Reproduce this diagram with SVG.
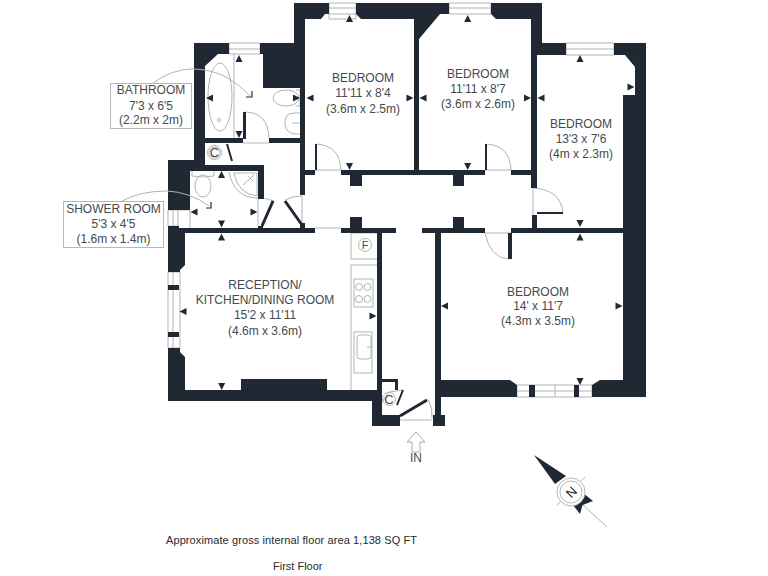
<svg xmlns="http://www.w3.org/2000/svg" width="768" height="576" viewBox="0 0 768 576">
<style>
.w{fill:#1f2833}
.l{fill:none;stroke:#b0b4b5;stroke-width:1}
.b{fill:none;stroke:#1f2833;stroke-width:3}
.t{font-family:"Liberation Sans",Arial,sans-serif;font-size:12px;fill:#454a4e;text-anchor:middle}
.f{font-family:"Liberation Sans",Arial,sans-serif;font-size:11px;fill:#2a2a2a}
</style>
<defs>
<path id="u" class="w" d="M0 -3.5L3.5 3.5L-3.5 3.5Z"/>
</defs>
<rect width="768" height="576" fill="#fff"/>
<g id="fixtures">
<path class="l" d="M329 3H356V19H329ZM329 8H356M329 14H356"/>
<path class="l" d="M449 3H491V14H449ZM449 8H491"/>
<path class="l" d="M566 43H614V55H566ZM566 49H614"/>
<path class="l" d="M229 43H260V54H229ZM229 49H260"/>
<path class="l" d="M168 210H178V226H168ZM173 210V226M178 210H190V228M178 226V228"/>
<path class="l" d="M168 272H180V348H168ZM173 272V348"/>
<path class="l" d="M517 385H592V397H517ZM517 391H592M555 385V397"/>
<path class="l" d="M234 54V138"/>
<ellipse class="l" cx="220" cy="97" rx="12" ry="34"/>
<circle class="l" cx="219" cy="120" r="1.5"/>
<ellipse class="l" cx="286" cy="98" rx="13" ry="8"/>
<path class="l" d="M296 90H300V106H296"/>
<path class="l" d="M300 113H295Q284 113 285 124Q286 134 296 134H300M292 123H300"/>
<ellipse class="l" cx="203" cy="186" rx="8" ry="11"/>
<path class="l" d="M192 171V176Q203 178 214 176V171"/>
<path class="l" d="M234 173H257V196Q238 194 234 173Z"/>
<path class="l" d="M229 172Q234 198 258 198"/>
<path class="l" d="M243 185L254 175M248 176L253 181"/>
<path class="l" d="M258 199V226M258 198Q267 198 274 201M285 200Q292 196 302 196V225"/>
<path class="l" d="M243 143H269M315 170H341M485 170H511M485 233H511M315 228H341"/>
<path class="l" d="M246 112Q268 113 269 138"/>
<path class="l" d="M317 144Q340 146 341 170"/>
<path class="l" d="M487 144Q510 146 511 170"/>
<path class="l" d="M485 233Q490 258 509 259"/>
<path class="l" d="M533 188V215M534 188Q561 190 563 213"/>
<path class="l" d="M351 233H377M351 233V259H377"/>
<circle class="l" cx="365" cy="245" r="6.5"/>
<path class="l" d="M351 265H377M351 265V390"/>
<rect class="l" x="354" y="279" width="19" height="28"/>
<circle class="l" cx="359" cy="287" r="3.5"/><circle class="l" cx="367.500" cy="287" r="3.5"/>
<circle class="l" cx="359" cy="299" r="3.5"/><circle class="l" cx="367.500" cy="299" r="3.5"/>
<rect class="l" x="354" y="332" width="18" height="41"/>
<rect class="l" x="357" y="335" width="14" height="24" rx="3"/>
<path class="l" d="M367 347H372"/>
<circle class="l" cx="214.500" cy="152.500" r="7"/>
<circle class="l" cx="214.500" cy="152.500" r="5.500"/>
<circle class="l" cx="389" cy="399" r="6.500"/>
<path class="l" d="M400 420H432M428 399Q433 408 432 418M382 402L389 392L403 390"/>
</g>
<g id="walls">
<path class="w" d="M294 3H329V14H325L321 19H305V43H294Z"/>
<path class="w" d="M356 3H449V14H440L419 39H414V19H361L356 14Z"/>
<path class="w" d="M414 19H419V170H414Z"/>
<path class="w" d="M491 3H542V43H537V19H496L491 14Z"/>
<path class="w" d="M294 3H305V88H263V54H260V43H294Z"/>
<rect class="w" x="300" y="88" width="5" height="107"/>
<path class="w" d="M194 43H229V54H218L205 66V160H194Z"/>
<path class="w" d="M168 160H205V165H264V199H258V171H190V210H168Z"/>
<rect class="w" x="205" y="138" width="38" height="5"/>
<rect class="w" x="269" y="138" width="31" height="5"/>
<rect class="w" x="243" y="112" width="3" height="27"/>
<path class="w" d="M168 226H179V228H315V233H185V265L180 270V272H168Z"/>
<path class="w" d="M168 348H180V352L185 357V390H241V379H327V390H372V401H168Z"/>
<rect class="w" x="372" y="390" width="10" height="36"/>
<rect class="w" x="372" y="415" width="28" height="11"/>
<rect class="w" x="377" y="233" width="5" height="157"/>
<path class="w" d="M382 379H398V390H395V382H382Z"/>
<rect class="w" x="341" y="228" width="55" height="5"/>
<rect class="w" x="422" y="228" width="63" height="5"/>
<rect class="w" x="511" y="228" width="112" height="5"/>
<rect class="w" x="532" y="215" width="5" height="13"/>
<rect class="w" x="531" y="19" width="6" height="169"/>
<rect class="w" x="304" y="170" width="11" height="5"/>
<rect class="w" x="341" y="170" width="59" height="5"/>
<rect class="w" x="400" y="170" width="85" height="5"/>
<rect class="w" x="511" y="170" width="20" height="5"/>
<rect class="w" x="350" y="175" width="12" height="11"/>
<rect class="w" x="350" y="217" width="12" height="11"/>
<rect class="w" x="453" y="175" width="11" height="11"/>
<rect class="w" x="453" y="217" width="11" height="11"/>
<rect class="w" x="315" y="144" width="2" height="26"/>
<rect class="w" x="485" y="144" width="2" height="26"/>
<rect class="w" x="508" y="233" width="4" height="26"/>
<rect class="w" x="537" y="212" width="26" height="2"/>
<rect class="w" x="537" y="43" width="29" height="12"/>
<path class="w" d="M614 43H646V397H592V385L600 380H623V95H635V67L625 55H614Z"/>
<rect class="w" x="435" y="233" width="6" height="182"/>
<path class="w" d="M435 380H510L517 385V397H435Z"/>
<rect class="w" x="433" y="415" width="12" height="11"/>
<rect class="w" x="529" y="385" width="6" height="12"/>
<rect class="w" x="574" y="385" width="5" height="12"/>
<rect class="w" x="168" y="285" width="11" height="5"/>
<rect class="w" x="168" y="332" width="11" height="5"/>
<rect class="w" x="258" y="226" width="5" height="2"/>
<rect class="w" x="300" y="223" width="5" height="5"/>
<path class="b" d="M262 226L273 201M285 201L302 225M400 416L427 400"/>
<path class="b" style="stroke-width:2" d="M227 144L232 161M403 390L397 405"/>
</g>
<g id="markers">
<use href="#u" x="349.500" y="18.500"/>
<use href="#u" x="467.700" y="18.500"/>
<use href="#u" x="580" y="58.500"/>
<use href="#u" x="239" y="58.500"/>
<use href="#u" x="221.500" y="174.500"/>
<use href="#u" x="221.500" y="237"/>
<use href="#u" x="580" y="237"/>
<use href="#u" transform="translate(239 134.500) rotate(180)"/>
<use href="#u" transform="translate(349.500 166.500) rotate(180)"/>
<use href="#u" transform="translate(467.700 166.500) rotate(180)"/>
<use href="#u" transform="translate(221.500 224) rotate(180)"/>
<use href="#u" transform="translate(580 223.500) rotate(180)"/>
<use href="#u" transform="translate(221.700 386.500) rotate(180)"/>
<use href="#u" transform="translate(580 381.500) rotate(180)"/>
<use href="#u" transform="translate(209.500 98) rotate(-90)"/>
<use href="#u" transform="translate(310 98) rotate(-90)"/>
<use href="#u" transform="translate(423 98) rotate(-90)"/>
<use href="#u" transform="translate(541 98) rotate(-90)"/>
<use href="#u" transform="translate(194 212) rotate(-90)"/>
<use href="#u" transform="translate(183 311.500) rotate(-90)"/>
<use href="#u" transform="translate(444.500 306) rotate(-90)"/>
<use href="#u" transform="translate(296.500 98) rotate(90)"/>
<use href="#u" transform="translate(410 98) rotate(90)"/>
<use href="#u" transform="translate(527.500 98) rotate(90)"/>
<use href="#u" transform="translate(631 87) rotate(90)"/>
<use href="#u" transform="translate(254 212) rotate(90)"/>
<use href="#u" transform="translate(373 316) rotate(90)"/>
<use href="#u" transform="translate(619 306) rotate(90)"/>
</g>
<g id="leaders">
<path class="l" d="M153 83Q172 69 193 69M193 69Q225 69 250 96"/>
<path class="l" d="M122 201Q140 191 167 191M167 191Q190 192 209 206"/>
<path d="M246 97H252V91M206 208H211V202" fill="none" stroke="#1f2833" stroke-width="1.200"/>
</g>
<g id="label-bathroom">
<rect x="110.500" y="83.500" width="81" height="45" fill="#fff" stroke="#b5b8b9"/>
<text class="t" x="151" y="94">BATHROOM</text>
<text class="t" x="151" y="110">7'3 x 6'5</text>
<text class="t" x="151" y="124">(2.2m x 2m)</text>
</g>
<g id="label-shower">
<rect x="63.500" y="201.500" width="100" height="46" fill="#fff" stroke="#b5b8b9"/>
<text class="t" x="113.500" y="213">SHOWER ROOM</text>
<text class="t" x="113.500" y="228">5'3 x 4'5</text>
<text class="t" x="113.500" y="243">(1.6m x 1.4m)</text>
</g>
<g id="label-bedroom-1">
<text class="t" x="363" y="82">BEDROOM</text>
<text class="t" x="363" y="97">11'11 x 8'4</text>
<text class="t" x="363" y="113">(3.6m x 2.5m)</text>
</g>
<g id="label-bedroom-2">
<text class="t" x="478" y="78">BEDROOM</text>
<text class="t" x="478" y="93">11'11 x 8'7</text>
<text class="t" x="478" y="108">(3.6m x 2.6m)</text>
</g>
<g id="label-bedroom-3">
<text class="t" x="581" y="128">BEDROOM</text>
<text class="t" x="581" y="143">13'3 x 7'6</text>
<text class="t" x="581" y="158">(4m x 2.3m)</text>
</g>
<g id="label-bedroom-4">
<text class="t" x="538" y="296">BEDROOM</text>
<text class="t" x="538" y="310">14' x 11'7</text>
<text class="t" x="538" y="325">(4.3m x 3.5m)</text>
</g>
<g id="label-reception">
<text class="t" x="265" y="289">RECEPTION/</text>
<text class="t" x="265" y="304">KITCHEN/DINING ROOM</text>
<text class="t" x="265" y="319">15'2 x 11'11</text>
<text class="t" x="265" y="335">(4.6m x 3.6m)</text>
</g>
<g id="symbols">
<text class="t" x="214.500" y="157" style="font-size:13px">C</text>
<text class="t" x="389" y="404" style="font-size:13px">C</text>
<text class="t" x="365" y="249" style="font-size:11px">F</text>
<path d="M416 432L407 442H412V452H420V442H425Z" fill="#fff" stroke="#a8acad"/>
<text class="t" x="416" y="462">IN</text>
</g>
<g id="compass">
<path class="l" d="M583 505L607 527M557 505L585 477"/>
<path class="w" d="M534 455L566 476L555 484Z"/>
<path class="w" d="M580 506L593 501L583 493Z"/>
<path class="w" d="M573 505L580 514L584 500Z"/>
<circle cx="571" cy="492" r="14" fill="#fff" stroke="#b5b8b9"/>
<circle cx="571" cy="492" r="11" fill="#fff" stroke="#b5b8b9"/>
<text transform="translate(571 492) rotate(-45)" y="5" text-anchor="middle" style="font-family:'Liberation Sans',Arial,sans-serif;font-size:13px;fill:#1f2833">N</text>
</g>
<g id="footer">
<text class="f" x="166" y="544" textLength="251">Approximate gross internal floor area 1,138 SQ FT</text>
<text class="f" x="273" y="570">First Floor</text>
</g>
</svg>
